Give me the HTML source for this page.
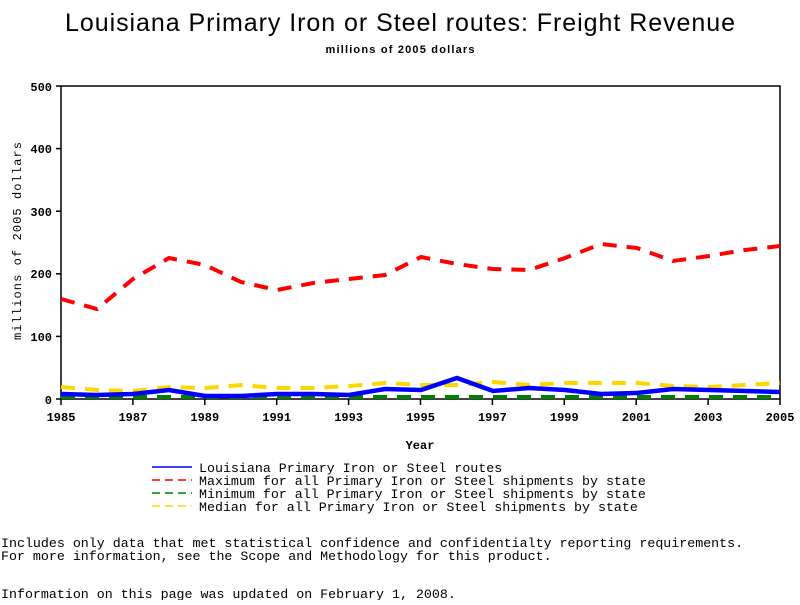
<!DOCTYPE html>
<html><head><style>
body{margin:0;background:#fff;width:800px;height:600px;overflow:hidden}
svg text{font-family:"Liberation Mono","DejaVu Sans Mono",monospace}
</style></head><body>
<svg width="800" height="600" xmlns="http://www.w3.org/2000/svg">
<text x="400" y="31" text-anchor="middle" font-size="25" textLength="670" style="font-family:'Liberation Sans',sans-serif">Louisiana Primary Iron or Steel routes: Freight Revenue</text>
<text x="400" y="53" text-anchor="middle" font-size="11" font-weight="bold" textLength="149" style="font-family:'Liberation Sans',sans-serif">millions of 2005 dollars</text>
<rect x="61" y="86" width="719" height="313" fill="none" stroke="#000" stroke-width="1.5"/>
<g stroke="#000" stroke-width="1.5">
<line x1="56" y1="86" x2="61" y2="86"/><line x1="56" y1="148.6" x2="61" y2="148.6"/><line x1="56" y1="211.2" x2="61" y2="211.2"/><line x1="56" y1="273.8" x2="61" y2="273.8"/><line x1="56" y1="336.4" x2="61" y2="336.4"/><line x1="56" y1="399" x2="61" y2="399"/>
<line x1="61" y1="399" x2="61" y2="405"/><line x1="132.9" y1="399" x2="132.9" y2="405"/><line x1="204.8" y1="399" x2="204.8" y2="405"/><line x1="276.7" y1="399" x2="276.7" y2="405"/><line x1="348.6" y1="399" x2="348.6" y2="405"/><line x1="420.5" y1="399" x2="420.5" y2="405"/><line x1="492.4" y1="399" x2="492.4" y2="405"/><line x1="564.3" y1="399" x2="564.3" y2="405"/><line x1="636.2" y1="399" x2="636.2" y2="405"/><line x1="708.1" y1="399" x2="708.1" y2="405"/><line x1="780" y1="399" x2="780" y2="405"/>
</g>
<g font-size="12" font-weight="bold" text-anchor="end">
<text x="52" y="91">500</text><text x="52" y="153">400</text><text x="52" y="216">300</text><text x="52" y="278">200</text><text x="52" y="341">100</text><text x="52" y="404">0</text>
</g>
<g font-size="12" font-weight="bold" text-anchor="middle">
<text x="61" y="421">1985</text><text x="132.9" y="421">1987</text><text x="204.8" y="421">1989</text><text x="276.7" y="421">1991</text><text x="348.6" y="421">1993</text><text x="420.5" y="421">1995</text><text x="492.4" y="421">1997</text><text x="564.3" y="421">1999</text><text x="636.2" y="421">2001</text><text x="708.1" y="421">2003</text><text x="780" y="421">2005</text>
<text x="420" y="449">Year</text>
</g>
<text transform="translate(21,241) rotate(-90)" font-size="12" text-anchor="middle" textLength="198">millions of 2005 dollars</text>
<polyline fill="none" stroke="#008000" stroke-width="4" stroke-dasharray="14,10" points="61,397 780,397"/>
<polyline fill="none" stroke="#ffd700" stroke-width="4" stroke-dasharray="14,10" points="61,387 97,390 133,391 169,387 205,388 241,385 277,388 313,388 349,386 385,383 421,385 457,385 493,382 529,385 565,383 601,383 637,383 673,386 709,387 745,385 780,383"/>
<polyline fill="none" stroke="#ff0000" stroke-width="4" stroke-dasharray="14,10" points="61,299 97,309 133,279 169,258 205,265 241,282 277,290 313,283 349,279 385,275 421,257 457,264 493,269 529,270 565,258 601,244 637,248 673,261 709,256 745,250 780,246"/>
<polyline fill="none" stroke="#0000ff" stroke-width="4.5" points="61,394 97,395 133,394 169,390 205,396 241,396 277,394 313,394 349,395 385,389 421,390 457,378 493,391 529,388 565,390 601,394 637,393 673,389 709,390 745,391 780,392"/>
<line x1="152" y1="467" x2="192" y2="467" stroke="#0000ff" stroke-width="1.5"/>
<line x1="152" y1="480" x2="192" y2="480" stroke="#ff0000" stroke-width="1.5" stroke-dasharray="8,5"/>
<line x1="152" y1="493" x2="192" y2="493" stroke="#008000" stroke-width="1.5" stroke-dasharray="8,5"/>
<line x1="152" y1="506" x2="192" y2="506" stroke="#ffd700" stroke-width="1.5" stroke-dasharray="8,5"/>
<g font-size="13.3">
<text x="199" y="472">Louisiana Primary Iron or Steel routes</text>
<text x="199" y="485">Maximum for all Primary Iron or Steel shipments by state</text>
<text x="199" y="498">Minimum for all Primary Iron or Steel shipments by state</text>
<text x="199" y="511">Median for all Primary Iron or Steel shipments by state</text>
<text x="1" y="547">Includes only data that met statistical confidence and confidentialty reporting requirements.</text>
<text x="1" y="560">For more information, see the Scope and Methodology for this product.</text>
<text x="1" y="598">Information on this page was updated on February 1, 2008.</text>
</g>
</svg>
</body></html>
